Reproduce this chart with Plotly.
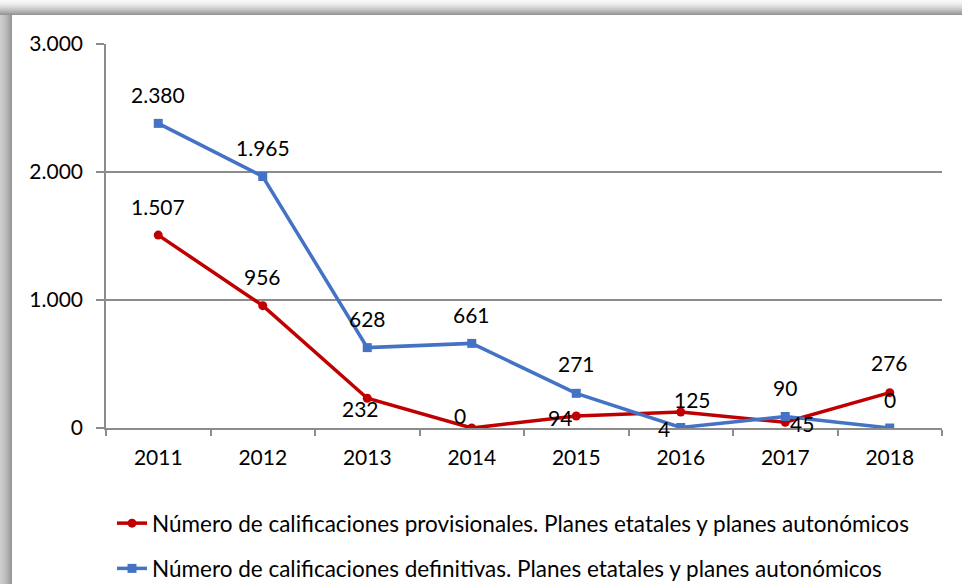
import plotly.graph_objects as go

years = ["2011", "2012", "2013", "2014", "2015", "2016", "2017", "2018"]
provisionales = [1507, 956, 232, 0, 94, 125, 45, 276]
definitivas = [2380, 1965, 628, 661, 271, 4, 90, 0]
name_prov = "Número de calificaciones provisionales. Planes etatales y planes autonómicos"
name_def = "Número de calificaciones definitivas. Planes etatales y planes autonómicos"

# label offsets in pixels (xshift, yshift)
prov_off = [(0, 29), (0, 29), (-7, -10), (-12, 13), (-16, -2), (12, 13), (17, -1), (0, 30)]
def_off = [(0, 29), (0, 29), (0, 29), (0, 29), (0, 30), (-17, -1), (0, 29), (0, 29)]

W, H = 962, 584
L, R, T, B = 106, 942, 44, 428
FONT = "Lato"
FS = 21
FS_LEG = 22.5


def fmt(v):
    return f"{v:,}".replace(",", ".")


def px(p):
    return (p - L) / (R - L)


def py(p):
    return (B - p) / (B - T)


fig = go.Figure()
fig.add_trace(go.Scatter(
    x=years, y=provisionales, name=name_prov, mode="lines+markers",
    line=dict(color="#C00000", width=3.5),
    marker=dict(symbol="circle", size=9, color="#C00000"),
    legendgroup="a",
))
fig.add_trace(go.Scatter(
    x=years, y=definitivas, name=name_def, mode="lines+markers",
    line=dict(color="#4472C4", width=3.5),
    marker=dict(symbol="square", size=9, color="#4472C4"),
    legendgroup="b",
))

annotations = []
for i, (v, (dx, dy)) in enumerate(zip(provisionales, prov_off)):
    annotations.append(dict(x=i, y=v, xref="x", yref="y", text=fmt(v), showarrow=False,
                            xshift=dx, yshift=dy,
                            font=dict(family=FONT, size=FS, color="black")))
for i, (v, (dx, dy)) in enumerate(zip(definitivas, def_off)):
    annotations.append(dict(x=i, y=v, xref="x", yref="y", text=fmt(v), showarrow=False,
                            xshift=dx, yshift=dy,
                            font=dict(family=FONT, size=FS, color="black")))

shapes = []
# top shadow band
for i in range(15):
    t = i / 14
    g = int(248 - (248 - 150) * t ** 1.5)
    shapes.append(dict(type="rect", xref="paper", yref="paper",
                       x0=px(0), x1=px(W), y0=py(i), y1=py(i + 1),
                       fillcolor=f"rgb({g},{g},{g})", line=dict(width=0), layer="below"))
# left shadow band
for i in range(12):
    t = i / 11
    g = int(205 - (205 - 150) * t ** 1.5)
    shapes.append(dict(type="rect", xref="paper", yref="paper",
                       x0=px(i), x1=px(i + 1), y0=py(15), y1=py(H),
                       fillcolor=f"rgb({g},{g},{g})", line=dict(width=0), layer="below"))

fig.update_layout(
    width=W, height=H,
    margin=dict(l=L, r=W - R, t=T, b=H - B, autoexpand=False),
    paper_bgcolor="white", plot_bgcolor="white",
    separators=",.",
    font=dict(family=FONT, size=FS, color="black"),
    showlegend=True,
    hovermode=False,
    legend=dict(
        x=px(112), y=py(502), xanchor="left", yanchor="top",
        bgcolor="rgba(0,0,0,0)", font=dict(family=FONT, size=FS_LEG, color="black"),
        tracegroupgap=13, traceorder="grouped",
    ),
    annotations=annotations,
    shapes=shapes,
    xaxis=dict(
        type="category", range=[-0.5, 7.5],
        showline=True, linecolor="#8c8c8c", linewidth=1.5,
        ticks="outside", tickson="boundaries", ticklen=6, tickcolor="#8c8c8c", tickwidth=1.5,
        showgrid=False, tickfont=dict(family=FONT, size=FS, color="black"),
        ticklabelstandoff=10,
    ),
    yaxis=dict(
        range=[0, 3000], dtick=1000, tickformat=",d",
        showline=True, linecolor="#8c8c8c", linewidth=1.5,
        ticks="outside", ticklen=8, tickcolor="#8c8c8c", tickwidth=1.5,
        showgrid=True, gridcolor="#8c8c8c", gridwidth=1.5,
        zeroline=False,
        tickfont=dict(family=FONT, size=FS, color="black"),
        ticklabelstandoff=9,
    ),
)

fig.write_html(
    "out.html",
    config={"displayModeBar": False},
    post_script="document.body.style.margin='0';document.body.style.overflow='hidden';",
)
